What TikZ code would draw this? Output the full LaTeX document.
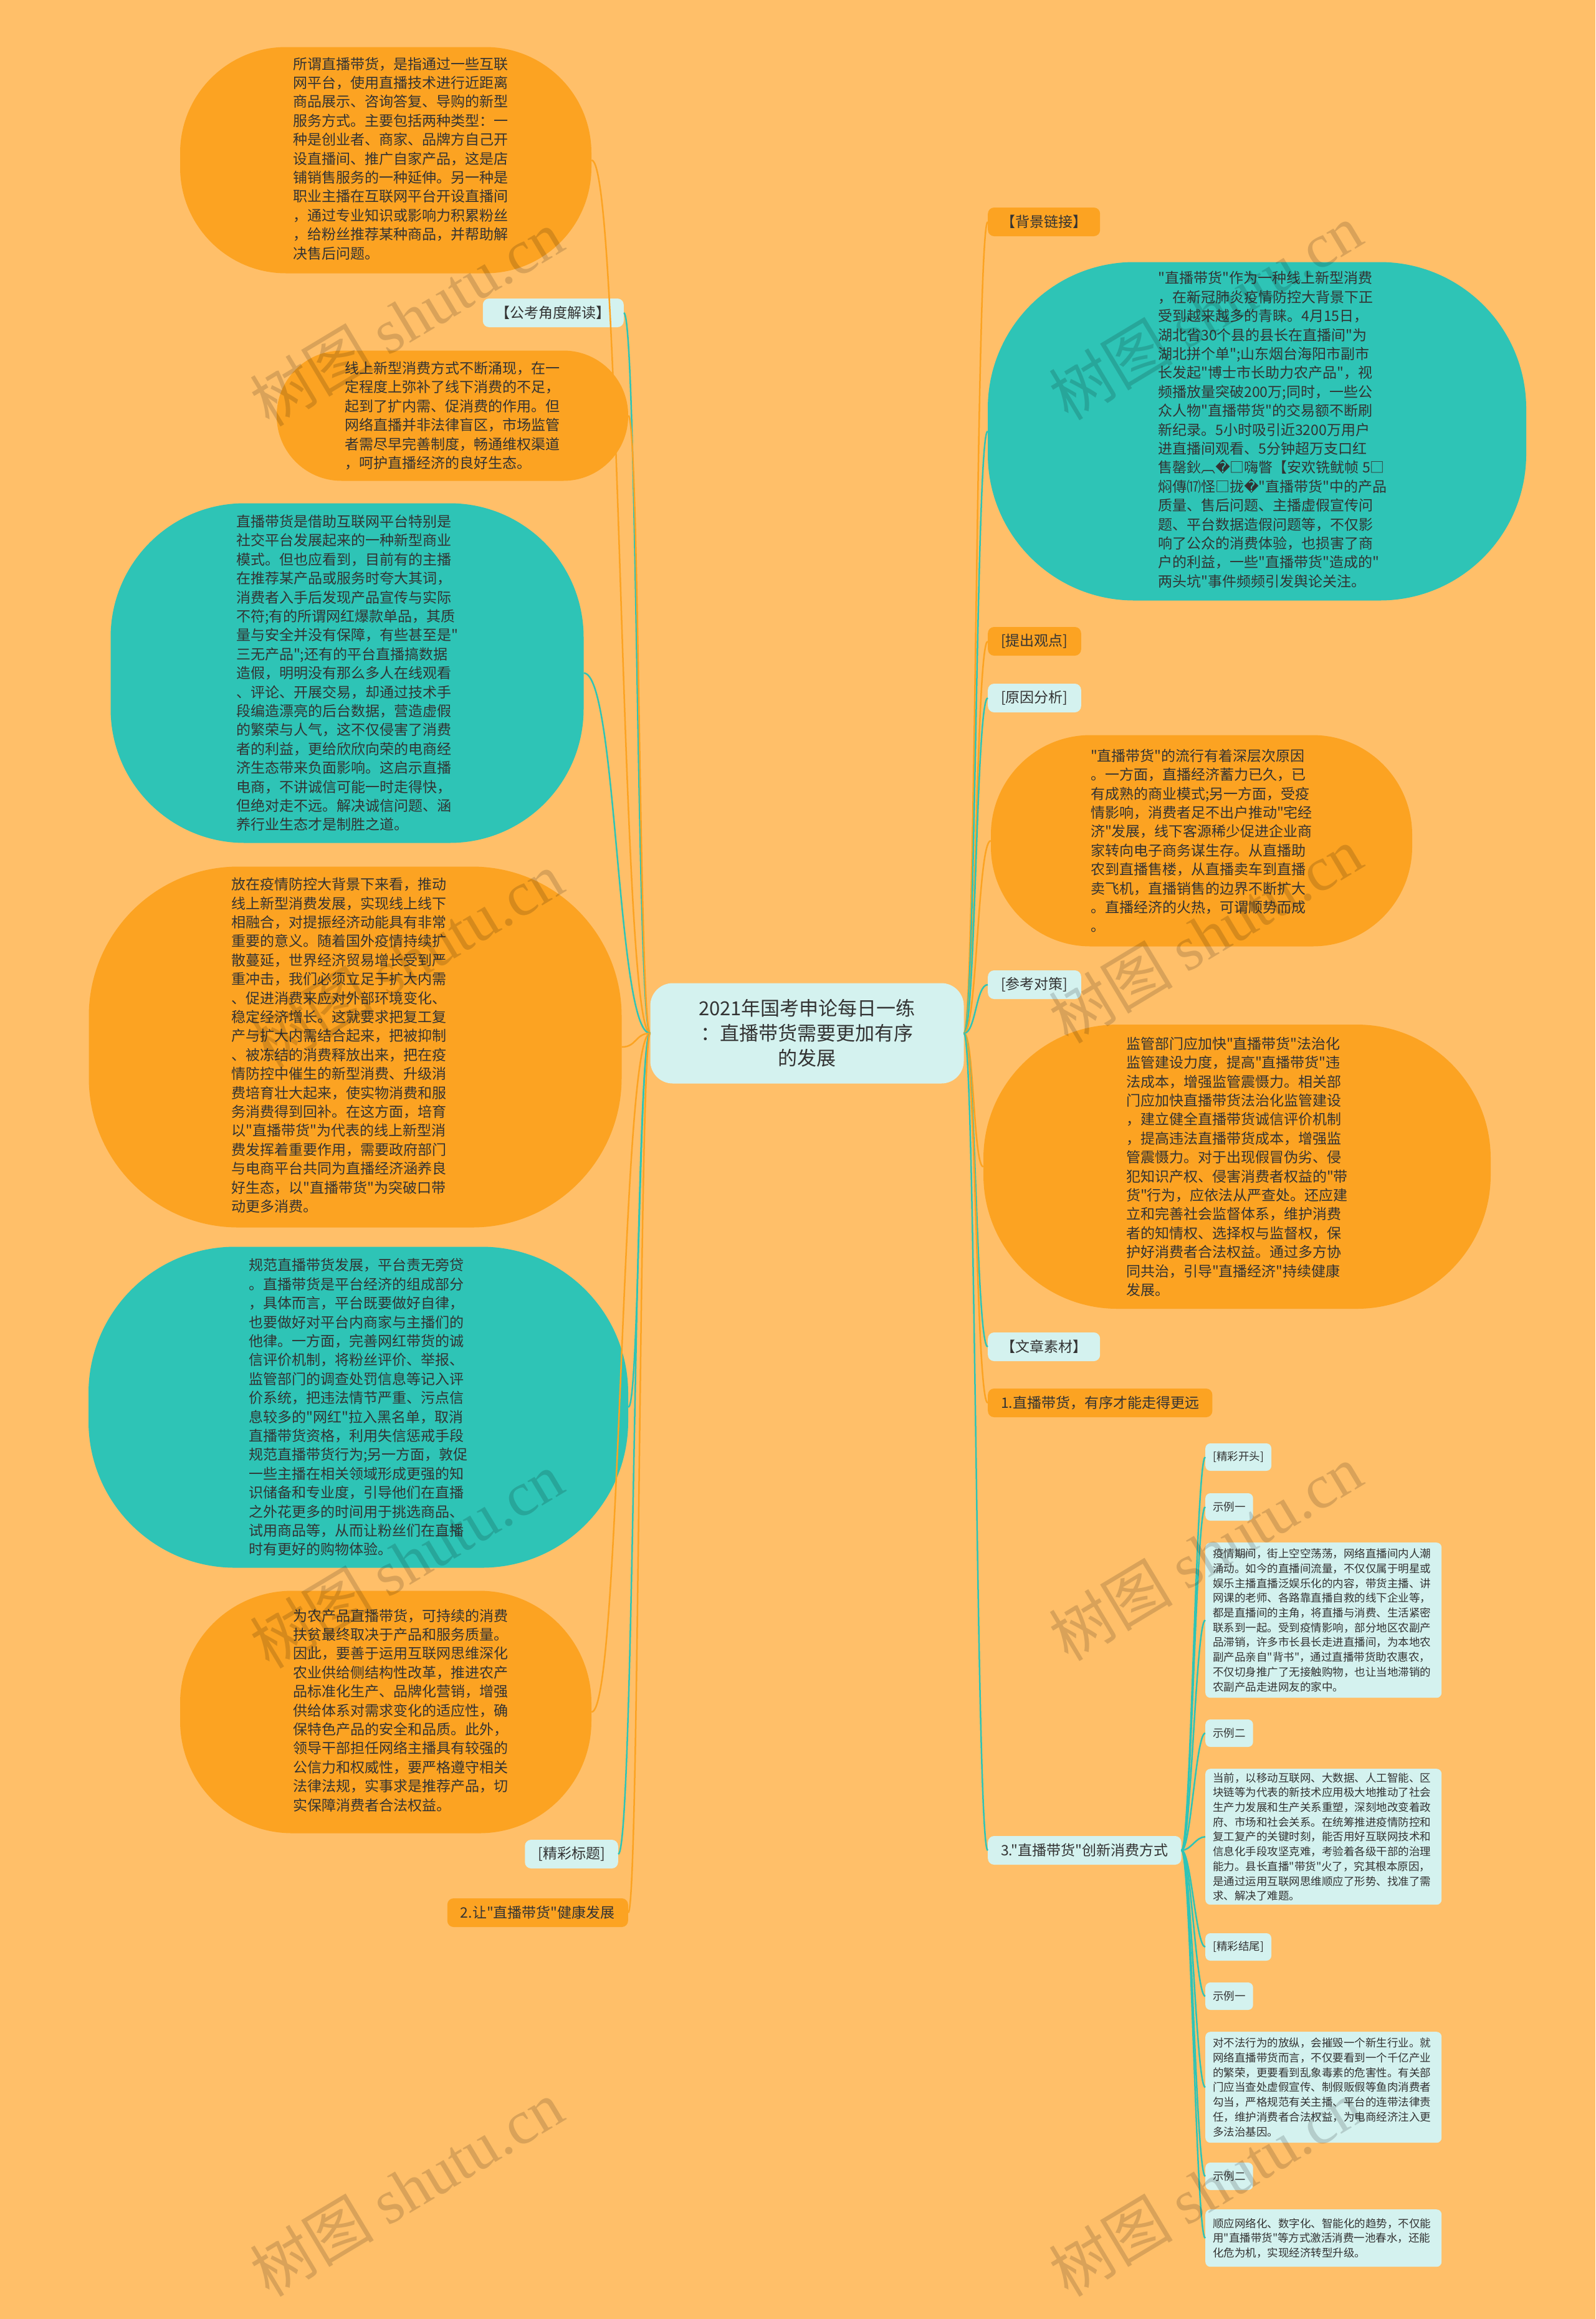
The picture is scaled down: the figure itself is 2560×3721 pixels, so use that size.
\documentclass[tikz,border=0pt]{standalone}
\usepackage{fontspec}
\setmainfont{Noto Sans CJK SC}[Ligatures=TeXOff]
\newfontfamily\djv{DejaVu Sans}
\newfontfamily\wmserif{Liberation Serif}

\definecolor{bgcol}{HTML}{FFBF69}
\definecolor{orangecol}{HTML}{FCA322}
\definecolor{tealcol}{HTML}{2EC4B6}
\definecolor{lightcol}{HTML}{D4F2EF}
\definecolor{inkcol}{HTML}{333333}

\tikzset{
  bubble/.style={rounded corners=#1, inner sep=0pt, align=left, text=inkcol,
    font=\fontsize{23}{30.4}\selectfont},
  orangebubble/.style={bubble=#1, fill=orangecol},
  tealbubble/.style={bubble=#1, fill=tealcol},
  hubbox/.style={fill=lightcol, rounded corners=36pt, minimum width=503pt,
    minimum height=161pt, align=center, text=inkcol, font=\fontsize{31}{40}\selectfont},
  orangetag/.style={fill=orangecol, rounded corners=10pt, minimum height=46pt,
    inner xsep=21pt, inner ysep=0pt, text=inkcol, font=\fontsize{23}{28}\selectfont},
  cyantag/.style={orangetag, fill=lightcol},
  smalltag/.style={fill=lightcol, rounded corners=8pt, minimum height=44pt,
    inner xsep=12pt, inner ysep=0pt, text=inkcol, font=\fontsize{17.5}{23.7}\selectfont},
  smallbox/.style={fill=lightcol, rounded corners=8pt, anchor=north west, align=left,
    text width=355pt, inner xsep=12pt, inner ysep=0pt, text=inkcol,
    font=\fontsize{17.5}{23.7}\selectfont},
  orangelink/.style={draw=orangecol, line width=2.5pt},
  teallink/.style={draw=tealcol, line width=2.5pt},
  watermark/.style={rotate=31, text=black, text opacity=0.15, font=\fontsize{100}{100}\selectfont}
}

\begin{document}
\begin{tikzpicture}[x=1pt,y=-1pt]
\useasboundingbox (0,0) rectangle (2560,3721);
\fill[bgcol] (0,0) rectangle (2560,3721);

% centre
\node[hubbox] (hub) at (1295,1658) {2021年国考申论每日一练\\：直播带货需要更加有序\\的发展};

% left side
\node[orangebubble=170pt, minimum width=660pt, minimum height=363pt] (define) at (619,257)
  {\hspace*{48pt}\begin{tabular}{@{}l@{}}所谓直播带货，是指通过一些互联\\网平台，使用直播技术进行近距离\\商品展示、咨询答复、导购的新型\\服务方式。主要包括两种类型：一\\种是创业者、商家、品牌方自己开\\设直播间、推广自家产品，这是店\\铺销售服务的一种延伸。另一种是\\职业主播在互联网平台开设直播间\\，通过专业知识或影响力积累粉丝\\，给粉丝推荐某种商品，并帮助解\\决售后问题。\end{tabular}};
\node[cyantag, anchor=east] (angletag) at (1001,502) {【公考角度解读】};
\node[orangebubble=104pt, minimum width=564pt, minimum height=209pt] (angle) at (726,667)
  {线上新型消费方式不断涌现，在一\\定程度上弥补了线下消费的不足，\\起到了扩内需、促消费的作用。但\\网络直播并非法律盲区，市场监管\\者需尽早完善制度，畅通维权渠道\\，呵护直播经济的良好生态。};
\node[tealbubble=215pt, minimum width=759pt, minimum height=545pt] (integrity) at (557,1080)
  {直播带货是借助互联网平台特别是\\社交平台发展起来的一种新型商业\\模式。但也应看到，目前有的主播\\在推荐某产品或服务时夸大其词，\\消费者入手后发现产品宣传与实际\\不符;有的所谓网红爆款单品，其质\\量与安全并没有保障，有些甚至是"\\三无产品";还有的平台直播搞数据\\造假，明明没有那么多人在线观看\\、评论、开展交易，却通过技术手\\段编造漂亮的后台数据，营造虚假\\的繁荣与人气，这不仅侵害了消费\\者的利益，更给欣欣向荣的电商经\\济生态带来负面影响。这启示直播\\电商，不讲诚信可能一时走得快，\\但绝对走不远。解决诚信问题、涵\\养行业生态才是制胜之道。};
\node[orangebubble=240pt, minimum width=855pt, minimum height=579pt] (epidemic) at (570,1680)
  {\begin{tabular}{@{}l@{}}放在疫情防控大背景下来看，推动\\线上新型消费发展，实现线上线下\\相融合，对提振经济动能具有非常\\重要的意义。随着国外疫情持续扩\\散蔓延，世界经济贸易增长受到严\\重冲击，我们必须立足于扩大内需\\、促进消费来应对外部环境变化、\\稳定经济增长。这就要求把复工复\\产与扩大内需结合起来，把被抑制\\、被冻结的消费释放出来，把在疫\\情防控中催生的新型消费、升级消\\费培育壮大起来，使实物消费和服\\务消费得到回补。在这方面，培育\\以"直播带货"为代表的线上新型消\\费发挥着重要作用，需要政府部门\\与电商平台共同为直播经济涵养良\\好生态，以"直播带货"为突破口带\\动更多消费。\end{tabular}\hspace*{52pt}\null};
\node[tealbubble=235pt, minimum width=866pt, minimum height=515pt] (platform) at (575,2258)
  {规范直播带货发展，平台责无旁贷\\。直播带货是平台经济的组成部分\\，具体而言，平台既要做好自律，\\也要做好对平台内商家与主播们的\\他律。一方面，完善网红带货的诚\\信评价机制，将粉丝评价、举报、\\监管部门的调查处罚信息等记入评\\价系统，把违法情节严重、污点信\\息较多的"网红"拉入黑名单，取消\\直播带货资格，利用失信惩戒手段\\规范直播带货行为;另一方面，敦促\\一些主播在相关领域形成更强的知\\识储备和专业度，引导他们在直播\\之外花更多的时间用于挑选商品、\\试用商品等，从而让粉丝们在直播\\时有更好的购物体验。};
\node[orangebubble=180pt, minimum width=660pt, minimum height=389pt] (farm) at (619,2747)
  {\hspace*{48pt}\begin{tabular}{@{}l@{}}为农产品直播带货，可持续的消费\\扶贫最终取决于产品和服务质量。\\因此，要善于运用互联网思维深化\\农业供给侧结构性改革，推进农产\\品标准化生产、品牌化营销，增强\\供给体系对需求变化的适应性，确\\保特色产品的安全和品质。此外，\\领导干部担任网络主播具有较强的\\公信力和权威性，要严格遵守相关\\法律法规，实事求是推荐产品，切\\实保障消费者合法权益。\end{tabular}};
\node[cyantag, anchor=east] (headtag) at (992,2975) {[精彩标题]};
\node[orangetag, anchor=east] (title2) at (1008,3069) {2.让"直播带货"健康发展};

% right side
\node[orangetag, anchor=west] (bgtag) at (1585,356) {【背景链接】};
\node[tealbubble=235pt, minimum width=864pt, minimum height=543pt] (fact) at (2017,692)
  {\hspace*{50pt}\begin{tabular}{@{}l@{}}"直播带货"作为一种线上新型消费\\，在新冠肺炎疫情防控大背景下正\\受到越来越多的青睐。4月15日，\\湖北省30个县的县长在直播间"为\\湖北拼个单";山东烟台海阳市副市\\长发起"博士市长助力农产品"，视\\频播放量突破200万;同时，一些公\\众人物"直播带货"的交易额不断刷\\新纪录。5小时吸引近3200万用户\\进直播间观看、5分钟超万支口红\\售罄鈥︹{\djv �}□嗨瞥【安欢铣鱿帧 5□\\焖傳⒄怪□拢{\djv �}"直播带货"中的产品\\质量、售后问题、主播虚假宣传问\\题、平台数据造假问题等，不仅影\\响了公众的消费体验，也损害了商\\户的利益，一些"直播带货"造成的"\\两头坑"事件频频引发舆论关注。\end{tabular}};
\node[orangetag, anchor=west] (viewtag) at (1585,1029) {[提出观点]};
\node[cyantag, anchor=west] (causetag) at (1585,1120) {[原因分析]};
\node[orangebubble=160pt, minimum width=676pt, minimum height=339pt] (cause) at (1928,1349)
  {"直播带货"的流行有着深层次原因\\。一方面，直播经济蓄力已久，已\\有成熟的商业模式;另一方面，受疫\\情影响，消费者足不出户推动"宅经\\济"发展，线下客源稀少促进企业商\\家转向电子商务谋生存。从直播助\\农到直播售楼，从直播卖车到直播\\卖飞机，直播销售的边界不断扩大\\。直播经济的火热，可谓顺势而成\\。};
\node[cyantag, anchor=west] (plantag) at (1585,1580) {[参考对策]};
\node[orangebubble=215pt, minimum width=814pt, minimum height=456pt] (plan) at (1985,1872)
  {监管部门应加快"直播带货"法治化\\监管建设力度，提高"直播带货"违\\法成本，增强监管震慑力。相关部\\门应加快直播带货法治化监管建设\\，建立健全直播带货诚信评价机制\\，提高违法直播带货成本，增强监\\管震慑力。对于出现假冒伪劣、侵\\犯知识产权、侵害消费者权益的"带\\货"行为，应依法从严查处。还应建\\立和完善社会监督体系，维护消费\\者的知情权、选择权与监督权，保\\护好消费者合法权益。通过多方协\\同共治，引导"直播经济"持续健康\\发展。};
\node[cyantag, anchor=west] (materialtag) at (1585,2161) {【文章素材】};
\node[orangetag, anchor=west] (title1) at (1585,2251) {1.直播带货，有序才能走得更远};
\node[cyantag, anchor=west] (title3) at (1585,2969) {3."直播带货"创新消费方式};

% examples under title 3
\node[smalltag, anchor=west] (kaitou) at (1934,2338) {[精彩开头]};
\node[smalltag, anchor=west] (ex1a) at (1934,2418) {示例一};
\node[smallbox, minimum height=249pt] (exbox1a) at (1934,2475)
  {疫情期间，街上空空荡荡，网络直播间内人潮\\涌动。如今的直播间流量，不仅仅属于明星或\\娱乐主播直播泛娱乐化的内容，带货主播、讲\\网课的老师、各路靠直播自救的线下企业等，\\都是直播间的主角，将直播与消费、生活紧密\\联系到一起。受到疫情影响，部分地区农副产\\品滞销，许多市长县长走进直播间，为本地农\\副产品亲自"背书"，通过直播带货助农惠农，\\不仅切身推广了无接触购物，也让当地滞销的\\农副产品走进网友的家中。};
\node[smalltag, anchor=west] (ex2a) at (1934,2781) {示例二};
\node[smallbox, minimum height=218pt] (exbox2a) at (1934,2838)
  {当前，以移动互联网、大数据、人工智能、区\\块链等为代表的新技术应用极大地推动了社会\\生产力发展和生产关系重塑，深刻地改变着政\\府、市场和社会关系。在统筹推进疫情防控和\\复工复产的关键时刻，能否用好互联网技术和\\信息化手段攻坚克难，考验着各级干部的治理\\能力。县长直播"带货"火了，究其根本原因，\\是通过运用互联网思维顺应了形势、找准了需\\求、解决了难题。};
\node[smalltag, anchor=west] (jiewei) at (1934,3124) {[精彩结尾]};
\node[smalltag, anchor=west] (ex1b) at (1934,3203) {示例一};
\node[smallbox, minimum height=178pt] (exbox1b) at (1934,3260)
  {对不法行为的放纵，会摧毁一个新生行业。就\\网络直播带货而言，不仅要看到一个千亿产业\\的繁荣，更要看到乱象毒素的危害性。有关部\\门应当查处虚假宣传、制假贩假等鱼肉消费者\\勾当，严格规范有关主播、平台的连带法律责\\任，维护消费者合法权益，为电商经济注入更\\多法治基因。};
\node[smalltag, anchor=west] (ex2b) at (1934,3492) {示例二};
\node[smallbox, minimum height=92pt] (exbox2b) at (1934,3545)
  {顺应网络化、数字化、智能化的趋势，不仅能\\用"直播带货"等方式激活消费一池春水，还能\\化危为机，实现经济转型升级。};

% links, left
\draw[orangelink] (hub.west) .. controls +(-48,0) and +(48,0) .. (define.east);
\draw[teallink] (hub.west) .. controls +(-22,0) and +(22,0) .. (angletag.east);
\draw[orangelink] (hub.west) .. controls +(-18,0) and +(18,0) .. (angle.east);
\draw[teallink] (hub.west) .. controls +(-54,0) and +(54,0) .. (integrity.east);
\draw[orangelink] (hub.west) .. controls +(-24,0) and +(24,0) .. (epidemic.east);
\draw[teallink] (hub.west) .. controls +(-18,0) and +(18,0) .. (platform.east);
\draw[orangelink] (hub.west) .. controls +(-48,0) and +(48,0) .. (farm.east);
\draw[teallink] (hub.west) .. controls +(-26,0) and +(26,0) .. (headtag.east);
\draw[orangelink] (hub.west) .. controls +(-18,0) and +(18,0) .. (title2.east);

% links, right
\draw[orangelink] (hub.east) .. controls +(19,0) and +(-19,0) .. (bgtag.west);
\draw[teallink] (hub.east) .. controls +(19,0) and +(-19,0) .. (fact.west);
\draw[orangelink] (hub.east) .. controls +(19,0) and +(-19,0) .. (viewtag.west);
\draw[teallink] (hub.east) .. controls +(19,0) and +(-19,0) .. (causetag.west);
\draw[orangelink] (hub.east) .. controls +(21,0) and +(-21,0) .. (cause.west);
\draw[teallink] (hub.east) .. controls +(19,0) and +(-19,0) .. (plantag.west);
\draw[orangelink] (hub.east) .. controls +(16,0) and +(-16,0) .. (plan.west);
\draw[teallink] (hub.east) .. controls +(19,0) and +(-19,0) .. (materialtag.west);
\draw[orangelink] (hub.east) .. controls +(19,0) and +(-19,0) .. (title1.west);
\draw[teallink] (hub.east) .. controls +(19,0) and +(-19,0) .. (title3.west);

% links under title 3
\draw[teallink] (title3.east) .. controls +(15,0) and +(-15,0) .. (kaitou.west);
\draw[teallink] (title3.east) .. controls +(15,0) and +(-15,0) .. (ex1a.west);
\draw[teallink] (title3.east) .. controls +(15,0) and +(-15,0) .. (exbox1a.west);
\draw[teallink] (title3.east) .. controls +(15,0) and +(-15,0) .. (ex2a.west);
\draw[teallink] (title3.east) .. controls +(15,0) and +(-15,0) .. (exbox2a.west);
\draw[teallink] (title3.east) .. controls +(15,0) and +(-15,0) .. (jiewei.west);
\draw[teallink] (title3.east) .. controls +(15,0) and +(-15,0) .. (ex1b.west);
\draw[teallink] (title3.east) .. controls +(15,0) and +(-15,0) .. (exbox1b.west);
\draw[teallink] (title3.east) .. controls +(15,0) and +(-15,0) .. (ex2b.west);
\draw[teallink] (title3.east) .. controls +(15,0) and +(-15,0) .. (exbox2b.west);

% watermark
\node[watermark] (wm1) at (652,510) {树图 {\wmserif shutu.cn}};
\node[watermark] (wm2) at (1934,500) {树图 {\wmserif shutu.cn}};
\node[watermark] (wm3) at (652,1540) {树图 {\wmserif shutu.cn}};
\node[watermark] (wm4) at (1934,1500) {树图 {\wmserif shutu.cn}};
\node[watermark] (wm5) at (652,2503) {树图 {\wmserif shutu.cn}};
\node[watermark] (wm6) at (1934,2491) {树图 {\wmserif shutu.cn}};
\node[watermark] (wm7) at (652,3511) {树图 {\wmserif shutu.cn}};
\node[watermark] (wm8) at (1934,3511) {树图 {\wmserif shutu.cn}};
\end{tikzpicture}
\end{document}
